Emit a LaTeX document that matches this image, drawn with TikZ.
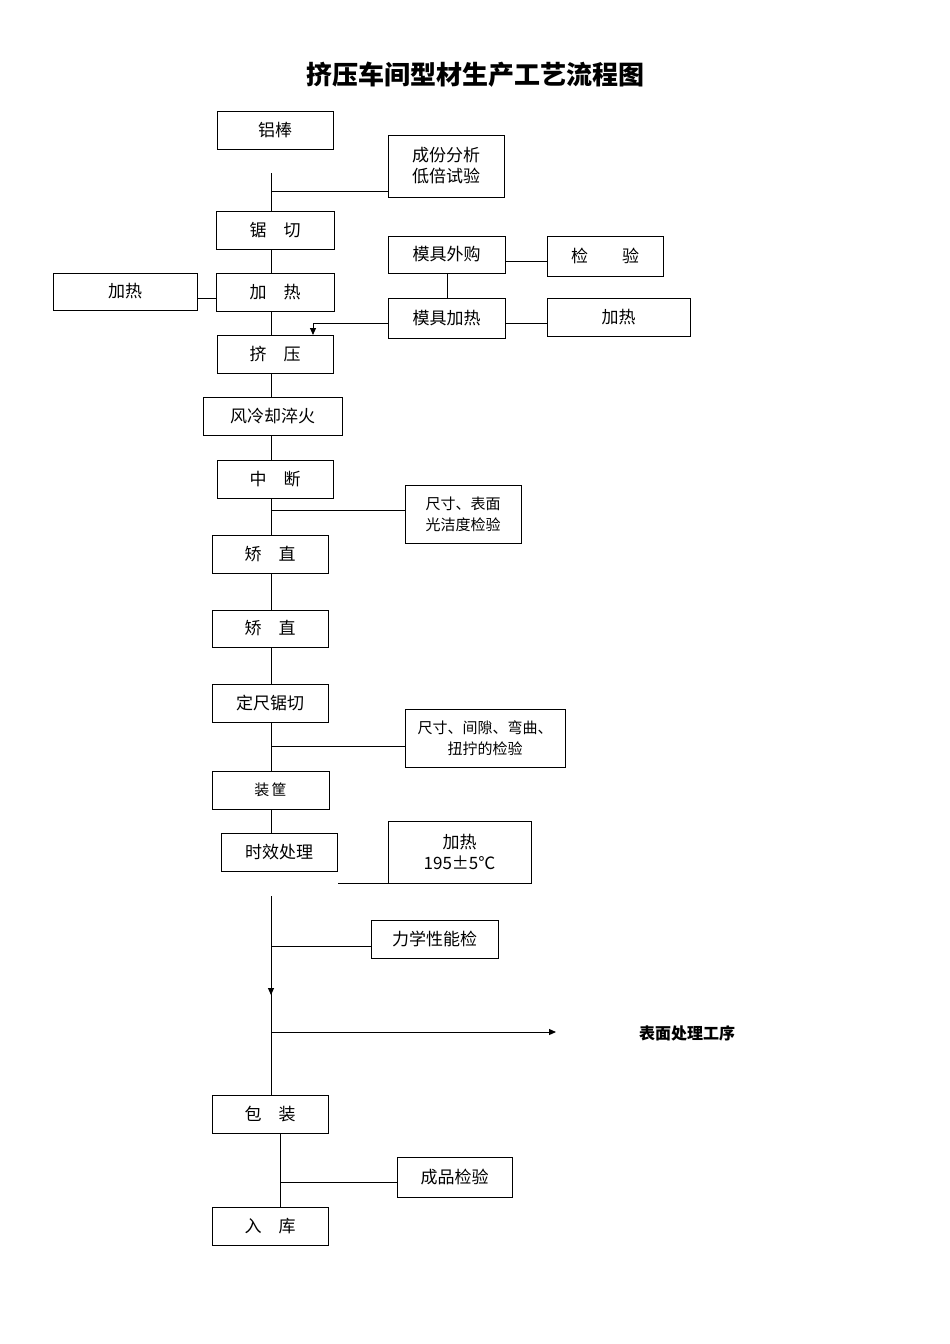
\documentclass[tikz,border=0pt]{standalone}
\usepackage{fontspec}
\setmainfont{Noto Sans CJK SC}
\usetikzlibrary{arrows.meta}
\begin{document}
\begin{tikzpicture}[x=1pt,y=-1pt,line width=1pt,
  bx/.style={draw,font=\fontsize{17}{21}\selectfont,align=center,inner sep=0pt},
  ln/.style={draw},
  ar/.style={-{Triangle[length=7pt,width=6pt]}}]
\useasboundingbox (0,0) rectangle (950,1344);
\newcommand\B[6]{\node[bx,minimum width=#4-#2,minimum height=#5-#3] (#1) at ({(#2+#4)/2},{(#3+#5)/2}) {#6};}
\node[font=\fontsize{26}{30}\selectfont\bfseries] (title) at (475,75) {挤压车间型材生产工艺流程图};
\B{a}{217}{111}{333}{149}{铝棒}
\B{b}{388}{135}{504}{197}{成份分析\\低倍试验}
\B{c}{216}{211}{334}{249}{锯\quad 切}
\B{d}{388}{236}{505}{273}{模具外购}
\B{e}{547}{236}{663}{276}{检\qquad 验}
\B{f}{53}{273}{197}{310}{加热}
\B{g}{216}{273}{334}{311}{加\quad 热}
\B{h}{388}{298}{505}{338}{模具加热}
\B{i}{547}{298}{690}{336}{加热}
\B{j}{217}{335}{333}{373}{挤\quad 压}
\B{k}{203}{397}{342}{435}{风冷却淬火}
\B{l}{217}{460}{333}{498}{中\quad 断}
\B{m}{405}{485}{521}{543}{\fontsize{15}{21}\selectfont 尺寸、表面\\\fontsize{15}{21}\selectfont 光洁度检验}
\B{n}{212}{535}{328}{573}{矫\quad 直}
\B{o}{212}{610}{328}{647}{矫\quad 直}
\B{p}{212}{684}{328}{722}{定尺锯切}
\B{q}{405}{709}{565}{767}{\fontsize{15}{21}\selectfont 尺寸、间隙、弯曲、\\\fontsize{15}{21}\selectfont 扭拧的检验}
\B{r}{212}{771}{329}{809}{\fontsize{15}{19}\selectfont 装\,筐}
\B{s}{221}{833}{337}{871}{时效处理}
\B{t}{388}{821}{531}{883}{加热\\195±5℃}
\B{u}{371}{920}{498}{958}{力学性能检}
\B{v}{212}{1095}{328}{1133}{包\quad 装}
\B{w}{397}{1157}{512}{1197}{成品检验}
\B{x}{212}{1207}{328}{1245}{入\quad 库}
\node[font=\fontsize{16}{20}\selectfont\bfseries] (sp) at (687,1033) {表面处理工序};
\coordinate (c1) at (271,173);
\draw (c1) -- (c.north-|c1);
\draw (271,191) -- (b.west|-0,191);
\draw (c.south-|c1) -- (g.north-|c1);
\draw (f.east|-0,298) -- (g.west|-0,298);
\draw (d.east|-0,261) -- (e.west|-0,261);
\draw (d.south-|447,0) -- (h.north-|447,0);
\draw (h.east|-0,323) -- (i.west|-0,323);
\draw[ar] (h.west|-0,323) -- (313,323) -- (313,335);
\draw (g.south-|c1) -- (j.north-|c1);
\draw (j.south-|c1) -- (k.north-|c1);
\draw (k.south-|c1) -- (l.north-|c1);
\draw (l.south-|c1) -- (n.north-|c1);
\draw (271,510) -- (m.west|-0,510);
\draw (n.south-|c1) -- (o.north-|c1);
\draw (o.south-|c1) -- (p.north-|c1);
\draw (p.south-|c1) -- (r.north-|c1);
\draw (271,746) -- (q.west|-0,746);
\draw (r.south-|c1) -- (271,833);
\draw (338,883) -- (t.west|-0,883);
\coordinate (d1) at (271,896);
\draw[ar] (d1) -- (271,995);
\draw (271,990) -- (v.north-|c1);
\draw (271,946) -- (u.west|-0,946);
\draw[ar] (271,1032) -- (556,1032);
\draw (v.south-|280,0) -- (x.north-|280,0);
\draw (280,1182) -- (w.west|-0,1182);
\end{tikzpicture}
\end{document}
